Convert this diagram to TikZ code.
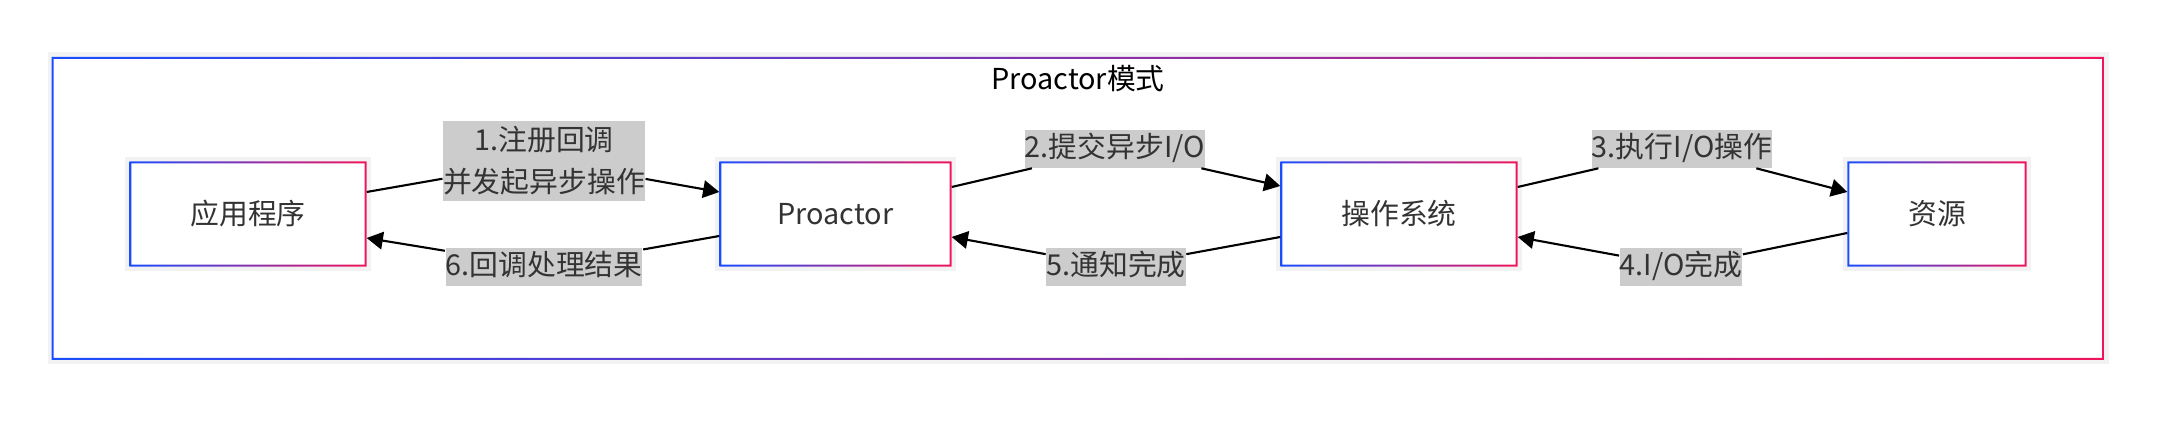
\documentclass[tikz,border=0pt]{standalone}
\usepackage{fontspec}
\setmainfont{Noto Sans CJK SC}
\definecolor{gradblue}{RGB}{26, 77, 255}
\definecolor{gradred}{RGB}{240, 20, 90}
\definecolor{labelgray}{RGB}{204, 204, 204}
\definecolor{textgray}{RGB}{51, 51, 51}
\usetikzlibrary{arrows.meta, positioning, calc}

\begin{document}
\begin{tikzpicture}[
  box/.style={minimum width=2.36cm, minimum height=1.04cm, inner sep=0pt,
    font=\fontsize{8.2pt}{10pt}\selectfont, text=textgray},
  lbl/.style={fill=labelgray, inner xsep=0pt, inner ysep=0.8pt, text height=7pt,
    text depth=2pt, font=\fontsize{8.2pt}{12pt}\selectfont, text=textgray},
  flow/.style={line width=0.6pt, -{Triangle[length=4.6pt, width=5pt]}}
]
  \useasboundingbox (0, 0) rectangle (21.67, 4.34);

  % Outer frame
  \draw[black!5, line width=0.05cm] (0.5, 0.72) rectangle (21.06, 3.79);
  \shade[left color=gradblue, right color=gradred, even odd rule]
    (0.515, 0.74) rectangle (21.04, 3.77) (0.535, 0.76) rectangle (21.02, 3.75);
  \node[font=\fontsize{8.2pt}{10pt}\selectfont, text=black] (title) at (10.78, 3.55) {Proactor模式};

  % Components
  \node[box] (app) at (2.48, 2.20) {应用程序};
  \node[box, minimum width=2.31cm] (pro) at (8.355, 2.20) {Proactor};
  \node[box] (os) at (13.99, 2.20) {操作系统};
  \node[box, minimum width=1.78cm] (res) at (19.37, 2.20) {资源};

  \foreach \n in {app, pro, os, res} {
    \draw[black!5, line width=0.04cm] ([shift={(-0.02, -0.02)}]\n.south west) rectangle ([shift={(0.02, 0.02)}]\n.north east);
    \shade[left color=gradblue, right color=gradred, even odd rule]
      (\n.south west) rectangle (\n.north east)
      ([shift={(0.02, 0.02)}]\n.south west) rectangle ([shift={(-0.02, -0.02)}]\n.north east);
  }

  % Edge labels
  \node[lbl, align=center, text height=, text depth=, inner ysep=1.5pt] (l1) at (5.44, 2.73) {1.注册回调\\并发起异步操作};
  \node[lbl] (l6) at (5.44, 1.67) {6.回调处理结果};
  \node[lbl] (l2) at (11.15, 2.85) {2.提交异步I/O};
  \node[lbl] (l5) at (11.16, 1.67) {5.通知完成};
  \node[lbl] (l3) at (16.82, 2.85) {3.执行I/O操作};
  \node[lbl] (l4) at (16.81, 1.67) {4.I/O完成};

  % Flows
  \draw[flow] ([yshift=0.22cm]app.east) -- (l1) -- ([yshift=0.22cm]pro.west);
  \draw[flow] ([yshift=-0.22cm]pro.west) -- (l6) -- ([yshift=-0.24cm]app.east);
  \draw[flow] ([yshift=0.27cm]pro.east) -- (l2) -- ([yshift=0.28cm]os.west);
  \draw[flow] ([yshift=-0.23cm]os.west) -- (l5) -- ([yshift=-0.23cm]pro.east);
  \draw[flow] ([yshift=0.27cm]os.east) -- (l3) -- ([yshift=0.22cm]res.west);
  \draw[flow] ([yshift=-0.19cm]res.west) -- (l4) -- ([yshift=-0.23cm]os.east);
\end{tikzpicture}
\end{document}
